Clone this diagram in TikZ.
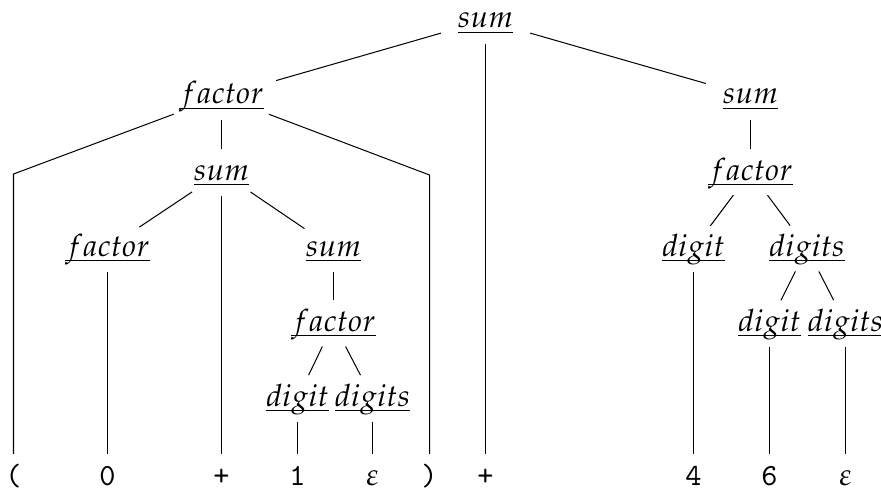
\documentclass[tikz,border=0pt]{standalone}
\usepackage{mathpazo}
\usetikzlibrary{shapes.geometric}
\newcommand\ntm[1]{$\underline{\smash{#1}}$}
\tikzset{
  tn/.style={ellipse, inner xsep=3.25pt, inner ysep=0.9pt, outer sep=0pt,
             text height=7pt, text depth=2pt, anchor=base},
  lf/.style={tn, font=\fontfamily{lmtt}\selectfont},
  link/.style={line width=0.33pt}
}
\begin{document}
\begin{tikzpicture}[x=0.325pt, y=-0.325pt]
\useasboundingbox (0,0) rectangle (881,492);
% nonterminals
\node[tn] (s0)  at (485.5,28)  {\ntm{sum}};
\node[tn] (f1)  at (221.5,104) {\ntm{factor}};
\node[tn] (s1)  at (750.5,104) {\ntm{sum}};
\node[tn] (s2)  at (221.5,180) {\ntm{sum}};
\node[tn] (f2)  at (750.5,180) {\ntm{factor}};
\node[tn] (f3)  at (107.5,256) {\ntm{factor}};
\node[tn] (s3)  at (333.5,256) {\ntm{sum}};
\node[tn] (d3)  at (693.5,256) {\ntm{digit}};
\node[tn] (ds3) at (807,256) {\ntm{digits}};
\node[tn] (f4)  at (333.5,331) {\ntm{factor}};
\node[tn] (d4)  at (769.5,331) {\ntm{digit}};
\node[tn] (ds4) at (845.5,331) {\ntm{digits}};
\node[tn] (d5)  at (297.5,406) {\ntm{digit}};
\node[tn] (ds5) at (372.5,406) {\ntm{digits}};
% terminals
\node[lf] (lp)  at (13.5,485)  {(};
\node[lf] (l0)  at (107.5,485) {0};
\node[lf] (pa)  at (221.5,485) {+};
\node[lf] (l1)  at (297.5,485) {1};
\node[lf] (e1)  at (372.5,485) {$\varepsilon$};
\node[lf] (rp)  at (429.5,485) {)};
\node[lf] (pb)  at (485.5,485) {+};
\node[lf] (l4)  at (693.5,485) {4};
\node[lf] (l6)  at (769.5,485) {6};
\node[lf] (e2)  at (845.5,485) {$\varepsilon$};
\coordinate (bl) at (13.5,174);
\coordinate (br) at (429.5,175);
% edges
\draw[link] (s0) -- (f1);
\draw[link] (s0) -- (pb);
\draw[link] (s0) -- (s1);
\draw[link] (f1) -- (bl) -- (lp);
\draw[link] (f1) -- (s2);
\draw[link] (f1) -- (br) -- (rp);
\draw[link] (s2) -- (f3);
\draw[link] (s2) -- (pa);
\draw[link] (s2) -- (s3);
\draw[link] (f3) -- (l0);
\draw[link] (s3) -- (f4);
\draw[link] (f4) -- (d5);
\draw[link] (f4) -- (ds5);
\draw[link] (d5) -- (l1);
\draw[link] (ds5) -- (e1);
\draw[link] (s1) -- (f2);
\draw[link] (f2) -- (d3);
\draw[link] (f2) -- (ds3);
\draw[link] (d3) -- (l4);
\draw[link] (ds3) -- (d4);
\draw[link] (ds3) -- (ds4);
\draw[link] (d4) -- (l6);
\draw[link] (ds4) -- (e2);
\end{tikzpicture}
\end{document}
